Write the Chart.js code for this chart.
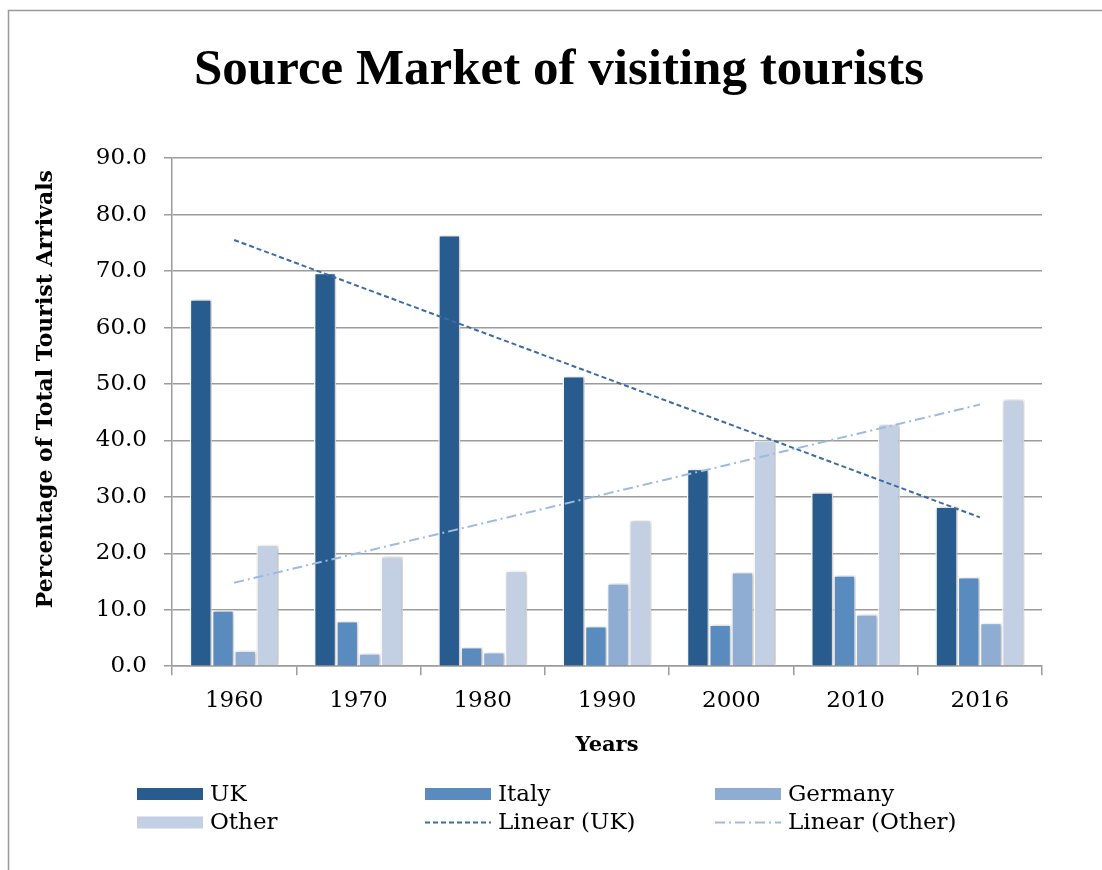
<!DOCTYPE html>
<html>
<head>
<meta charset="utf-8">
<title>Source Market of visiting tourists</title>
<script src="https://cdn.jsdelivr.net/npm/chart.js@4.4.0/dist/chart.umd.min.js"></script>
<style>
  html, body { margin: 0; padding: 0; background: #ffffff; }
  #wrap { width: 1102px; height: 870px; position: relative; }
  canvas { display: block; }
</style>
</head>
<body>
<div id="wrap"><canvas id="chart" width="1102" height="870"></canvas></div>
<script>
// Share of total tourist arrivals by source market (%)
const years   = ['1960', '1970', '1980', '1990', '2000', '2010', '2016'];
const uk      = [65.0, 69.7, 76.4, 51.4, 35.0, 30.8, 28.3];
const italy   = [9.9, 8.0, 3.4, 7.1, 7.4, 16.1, 15.8];
const germany = [2.8, 2.3, 2.5, 14.7, 16.7, 9.2, 7.7];
const other   = [21.5, 19.5, 16.9, 25.9, 40.0, 42.9, 47.3];

const yMin = 0;
const yMax = 90;
const yStep = 10;

const colors = {
  uk: '#285c8e',
  italy: '#5a8bbf',
  germany: '#8fadd3',
  other: '#c3cfe3',
  ukTrend: '#3d6ba3',
  otherTrend: '#9dbbe0'
};

// Least-squares linear trend over the category index (a "Linear" trendline)
function linearTrend(values) {
  const n = values.length;
  let sx = 0, sy = 0, sxy = 0, sxx = 0;
  values.forEach((v, i) => { sx += i; sy += v; sxy += i * v; sxx += i * i; });
  const slope = (n * sxy - sx * sy) / (n * sxx - sx * sx);
  const icpt = (sy - slope * sx) / n;
  return values.map((_, i) => icpt + slope * i);
}

const serif = "'DejaVu Serif', serif";
const gridGray = '#9c9c9c';

// Outer frame and white background
const framePlugin = {
  id: 'frame',
  beforeDraw(chart) {
    const ctx = chart.ctx;
    ctx.save();
    ctx.fillStyle = '#ffffff';
    ctx.fillRect(0, 0, chart.width, chart.height);
    ctx.strokeStyle = '#9a9a9a';
    ctx.lineWidth = 1.5;
    ctx.beginPath();
    ctx.moveTo(8.5, chart.height);
    ctx.lineTo(8.5, 10.5);
    ctx.lineTo(chart.width, 10.5);
    ctx.stroke();
    ctx.restore();
  }
};

// Soft drop shadow behind the bars
const barShadow = {
  id: 'barShadow',
  beforeDatasetDraw(chart, args) {
    if (chart.data.datasets[args.index].type === 'line') return;
    const ctx = chart.ctx;
    ctx.save();
    ctx.shadowColor = 'rgba(0,0,0,0.28)';
    ctx.shadowBlur = 4;
    ctx.shadowOffsetX = 1.5;
    ctx.shadowOffsetY = 0.5;
  },
  afterDatasetDraw(chart, args) {
    if (chart.data.datasets[args.index].type === 'line') return;
    chart.ctx.restore();
  }
};

// Three-column legend below the axis title
const gridLegend = {
  id: 'gridLegend',
  afterDraw(chart) {
    const ctx = chart.ctx;
    const cols = [137, 425, 715];
    const rows = [794, 822.5];
    ctx.save();
    ctx.font = "23px " + serif;
    ctx.textBaseline = 'middle';
    ctx.textAlign = 'left';
    chart.data.datasets.forEach((ds, k) => {
      const x = cols[k % 3];
      const y = rows[Math.floor(k / 3)];
      if (ds.type === 'line') {
        ctx.save();
        ctx.strokeStyle = ds.borderColor;
        ctx.lineWidth = ds.borderWidth;
        ctx.setLineDash(ds.borderDash);
        ctx.beginPath();
        ctx.moveTo(x, y);
        ctx.lineTo(x + 66, y);
        ctx.stroke();
        ctx.restore();
      } else {
        ctx.fillStyle = ds.backgroundColor;
        ctx.fillRect(x, y - 6, 66, 12);
      }
      ctx.fillStyle = '#000000';
      ctx.fillText(ds.label, x + 73, y + 1);
    });
    ctx.restore();
  }
};

const barStyle = {
  borderColor: '#ffffff',
  borderWidth: 1.5,
  categoryPercentage: 0.716,
  barPercentage: 1.0,
  order: 2
};

new Chart(document.getElementById('chart'), {
  type: 'bar',
  data: {
    labels: years,
    datasets: [
      Object.assign({ label: 'UK', data: uk, backgroundColor: colors.uk }, barStyle),
      Object.assign({ label: 'Italy', data: italy, backgroundColor: colors.italy }, barStyle),
      Object.assign({ label: 'Germany', data: germany, backgroundColor: colors.germany }, barStyle),
      Object.assign({ label: 'Other', data: other, backgroundColor: colors.other }, barStyle),
      {
        type: 'line', label: 'Linear (UK)', data: linearTrend(uk),
        borderColor: colors.ukTrend, borderWidth: 2, borderDash: [5, 3],
        pointRadius: 0, fill: false, tension: 0, order: 0
      },
      {
        type: 'line', label: 'Linear (Other)', data: linearTrend(other),
        borderColor: colors.otherTrend, borderWidth: 2, borderDash: [10, 4, 2, 4],
        pointRadius: 0, fill: false, tension: 0, order: 1
      }
    ]
  },
  options: {
    responsive: false,
    animation: false,
    layout: { padding: { left: 16, right: 0, top: 0, bottom: 112 } },
    plugins: {
      legend: { display: false },
      tooltip: { enabled: false },
      title: {
        display: true,
        text: 'Source Market of visiting tourists',
        color: '#000000',
        font: { family: "'Liberation Serif', serif", size: 51, weight: 'bold', lineHeight: 1.2 },
        padding: { top: 40, bottom: 57 }
      }
    },
    scales: {
      x: {
        offset: true,
        grid: {
          display: true, drawOnChartArea: false, offset: true,
          color: gridGray, lineWidth: 1.5, tickLength: 9
        },
        border: { display: true, color: gridGray, width: 1.5 },
        ticks: {
          color: '#000000', padding: 12,
          font: { family: serif, size: 23, lineHeight: 1.2 }
        },
        title: {
          display: true, text: 'Years', color: '#000000',
          font: { family: serif, size: 21, weight: 'bold', lineHeight: 1.2 },
          padding: { top: 6, bottom: 0 }
        }
      },
      y: {
        min: yMin, max: yMax,
        afterFit(scale) { scale.width = 156; },
        grid: { color: gridGray, lineWidth: 1.5, tickLength: 8 },
        border: { display: true, color: gridGray, width: 1.5 },
        ticks: {
          stepSize: yStep, color: '#000000', padding: 17,
          font: { family: serif, size: 23, lineHeight: 1.2 },
          callback: (v) => Number(v).toFixed(1)
        },
        title: {
          display: true, text: '      Percentage of Total Tourist Arrivals', color: '#000000',
          font: { family: serif, size: 22, weight: 'bold', lineHeight: 1.2 },
          padding: { top: 17, bottom: 0 }
        }
      },
      // empty right-hand gutter so the plot ends where the frame expects
      gutter: {
        axis: 'y', position: 'right', display: true,
        grid: { display: false, drawTicks: false },
        border: { display: false },
        ticks: { display: false },
        afterFit(scale) { scale.width = 60; }
      }
    }
  },
  plugins: [framePlugin, barShadow, gridLegend]
});
</script>
</body>
</html>
